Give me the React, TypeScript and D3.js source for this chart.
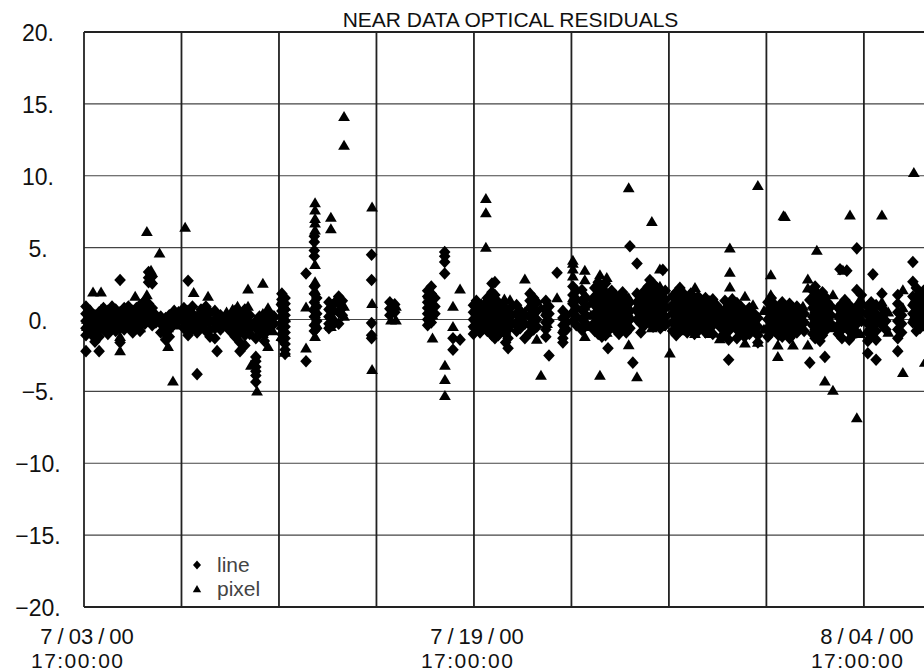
import React from 'react';
import * as d3 from 'd3';

const chartTitle = 'NEAR DATA OPTICAL RESIDUALS';
const yTicks = [20, 15, 10, 5, 0, -5, -10, -15, -20];
const xGridDays = [0, 4, 8, 12, 16, 20, 24, 28, 32];
const xLabelDays = [0, 16, 32];
const xLabelDates = ['7/03/00', '7/19/00', '8/04/00'];
const xLabelTimes = ['17:00:00', '17:00:00', '17:00:00'];
const legendNames = ['line', 'pixel'];

// [day since 7/03/00 17:00, residual values...]
const lineEarly: number[][] = [
  [0.08, 0.9, 0.4, -0.1, -0.6, -1.1, -2.2],
  [0.25, 0.6, 0.1, -0.4, -0.9],
  [0.45, 0.3, -0.3, -0.8, -1.3, -1.55],
  [0.62, 0.5, -0.1, -0.6, -1.2, -2.2],
  [0.8, 0.8, 0.3, -0.2, -0.7],
  [0.98, 0.6, 0.1, -0.4, -1.0],
  [1.15, 0.9, 0.4, -0.1, -0.5],
  [1.3, 0.7, 0.2, -0.3, -0.8],
  [1.48, 2.75, 0.5, 0.0, -0.6, -1.6],
  [1.65, 0.8, 0.3, -0.2, -0.7],
  [1.82, 0.9, 0.4, -0.1, -0.5],
  [2.0, 0.6, 0.1, -0.4, -0.9],
  [2.15, 0.8, 0.3, -0.2, -0.6],
  [2.3, 1.0, 0.5, 0.0, -0.4, -0.8],
  [2.5, 1.3, 0.7, 0.2, -0.3],
  [2.65, 3.3, 2.9, 2.6, 1.1, 0.5, -0.1],
  [2.8, 3.0, 2.5, 0.8, 0.2, -0.4],
  [2.95, 0.3, -0.2],
  [3.15, 0.2, -0.3, -0.9],
  [3.35, 0.1, -0.5, -1.0, -1.4],
  [3.5, 0.3, -0.2, -0.7, -1.2],
  [3.7, 0.6, 0.1, -0.3],
  [3.88, 0.5, 0.0],
  [4.1, 0.8, 0.3, -0.2, -0.6],
  [4.27, 2.7, 0.6, 0.1, -0.4, -1.1],
  [4.45, 0.9, 0.4, -0.1, -0.6],
  [4.64, 0.2, -0.3, -0.9, -3.8],
  [4.8, 0.7, 0.2, -0.4],
  [5.0, 0.9, 0.3, -0.2, -0.8],
  [5.17, 0.5, -0.1, -0.7, -1.2],
  [5.37, 0.6, 0.0, -0.6, -1.3],
  [5.46, -2.2],
  [5.6, 0.3, -0.3, -0.7],
  [5.8, 0.1, -0.4],
  [6.0, 0.2, -0.3, -0.8],
  [6.2, 0.6, 0.0, -0.6, -1.2],
  [6.4, 0.4, -0.2, -0.9, -1.6, -2.2],
  [6.6, 0.7, 0.1, -0.5, -1.1, -1.8],
  [6.8, 0.3, -0.3, -1.0],
  [7.05, -0.1, -0.6, -1.3, -2.6, -2.9, -3.3, -3.6, -3.9, -4.35],
  [7.2, 0.2, -0.4, -0.8],
  [7.4, 0.0, -0.5, -1.0, -1.5],
  [7.6, 0.4, -0.1, -0.6],
  [7.8, 0.2, -0.3],
  [8.12, 1.8, 1.4, 1.0, 0.6, 0.2, -0.2, -0.6, -1.0, -1.4],
  [8.25, 1.5, 1.1, 0.7, 0.3, -0.1, -0.5, -0.9, -1.3, -1.7, -2.1, -2.4],
  [9.11, 3.2, -2.9],
  [9.45, 5.8, 5.4, 4.8, 4.4, 2.3, 1.8, 1.2, 0.6, 0.2, -0.4, -0.8],
  [9.55, 1.5, 0.9, 0.4, -0.1, -0.6],
  [10.05, 1.2, 0.7, 0.2, -0.3, -0.6],
  [10.2, 1.0, 0.5, 0.0, -0.4],
  [10.45, 1.6, 1.1, 0.5, -0.3],
  [10.6, 1.3, 0.8, 0.3],
  [11.8, 4.5, 2.75, -0.25, -1.1, -1.3],
  [12.55, 1.2, 0.75, 0.3],
  [12.75, 1.05, 0.5],
  [14.1, 2.0, 1.6, 1.2, 0.8, 0.4, 0.0, -0.4],
  [14.25, 2.3, 1.8, 1.4, 1.0, 0.6, 0.2, -0.2],
  [14.4, 1.5, 0.9, 0.4],
  [14.8, 4.7, 4.4, 4.0, 3.2],
  [15.14, -1.3, -2.1],
  [15.43, -1.4],
];

const lineLate: number[][] = [
  [15.98, 1.0, 0.5, 0.0, -0.5, -1.0],
  [16.1, 1.3, 0.8, 0.3, -0.2, -0.7],
  [16.25, 0.6, 0.1, -0.4, -0.9],
  [16.4, 1.0, 0.4, -0.1, -0.6],
  [16.55, 1.5, 0.9, 0.4, -0.2, -0.8],
  [16.74, 2.5, 1.9, 1.3, 0.7, 0.1, -0.5, -1.1],
  [16.86, 2.6, 1.7, 1.0, 0.3, -0.3, -0.9, -1.3],
  [17.0, 1.2, 0.5, -0.1, -0.7, -1.1],
  [17.15, 1.0, 0.4, -0.2, -0.8],
  [17.3, 0.8, 0.2, -0.4, -1.0, -1.6],
  [17.4, 0.5, -0.1, -0.7, -1.3, -2.0],
  [17.55, 0.9, 0.3, -0.3],
  [17.75, 1.0, 0.4, -0.2, -0.8],
  [17.9, 0.6, 0.0, -0.6],
  [18.09, 0.3, -0.3, -1.3],
  [18.3, 1.8, 1.3, 0.8, 0.2, -0.4, -0.9],
  [18.45, 1.5, 1.0, 0.5, -0.1, -0.7],
  [18.58, 1.2, 0.6, 0.0, -0.5],
  [18.95, 1.3, 0.8, 0.3, -0.2, -0.7, -1.2],
  [19.08, 0.9, 0.4, -0.1, -2.5],
  [19.41, 3.25],
  [19.65, 0.6, 0.1, -0.4, -0.9, -1.3, -1.6],
  [19.8, 0.3, -0.2, -0.7],
  [20.06, 2.3, 1.7, 1.1, 0.5, -0.1],
  [20.2, 2.0, 1.4, 0.8, 0.2, -0.4],
  [20.43, 2.05, 1.3, 0.66, 0.0, -0.73],
  [20.6, 1.5, 0.9, 0.3, -0.3],
  [20.96, 2.2, 1.6, 1.0, 0.4, -0.2, -0.8],
  [21.1, 2.6, 2.0, 1.4, 0.8, 0.2, -0.4, -1.0],
  [21.25, 2.3, 1.7, 1.1, 0.5, -0.1, -0.7, -1.2],
  [21.4, 2.5, 1.9, 1.3, 0.7, 0.1, -0.5, -1.1],
  [21.5, 1.6, 1.0, 0.4, -0.2, -0.8, -2.0],
  [21.65, 2.0, 1.4, 0.8, 0.2, -0.4],
  [21.8, 1.7, 1.1, 0.5, -0.1, -0.7],
  [21.95, 1.4, 0.8, 0.2, -0.4, -1.0],
  [22.1, 1.9, 1.3, 0.7, 0.1, -0.5],
  [22.25, 1.5, 0.9, 0.3, -0.3, -0.9],
  [22.4, 5.1, 1.2, 0.6, 0.0, -0.6],
  [22.52, -3.0],
  [22.69, 3.9, 1.8, 1.2, 0.6, 0.0],
  [22.85, 1.5, 0.9, 0.3, -0.3, -0.9],
  [23.0, 2.0, 1.4, 0.8, 0.2, -0.4],
  [23.15, 2.3, 1.7, 1.1, 0.5, -0.1],
  [23.22, 2.75],
  [23.35, 2.5, 1.9, 1.3, 0.7, 0.1, -0.5],
  [23.5, 2.2, 1.6, 1.0, 0.4, -0.2],
  [23.65, 1.8, 1.2, 0.6, 0.0, -0.6],
  [23.75, 3.45],
  [23.85, 2.0, 1.4, 0.8, 0.2, -0.4],
  [24.15, 1.6, 1.0, 0.4, -0.2, -0.8],
  [24.3, 1.9, 1.3, 0.7, 0.1, -0.5, -1.1],
  [24.45, 2.2, 1.6, 1.0, 0.4, -0.2, -0.8],
  [24.6, 1.8, 1.2, 0.6, 0.0, -0.6],
  [24.75, 1.5, 0.9, 0.3, -0.3, -0.9],
  [24.9, 1.8, 1.2, 0.6, 0.0, -0.6],
  [25.05, 1.4, 0.8, 0.2, -0.4, -1.0],
  [25.2, 1.6, 1.0, 0.4, -0.2, -0.8],
  [25.35, 1.3, 0.7, 0.1, -0.5],
  [25.5, 1.5, 0.9, 0.3, -0.3, -0.9],
  [25.65, 1.2, 0.6, 0.0, -0.6],
  [25.8, 1.4, 0.8, 0.2, -0.4, -1.0],
  [25.95, 1.0, 0.4, -0.2],
  [26.15, 0.6, 0.0, -0.6, -1.2],
  [26.3, 1.3, 0.7, 0.1, -0.5, -1.1],
  [26.45, 1.0, 0.4, -0.2, -0.8, -1.4, -2.8],
  [26.6, 1.4, 0.8, 0.2, -0.4],
  [26.79, 1.15, 0.5, -0.1, -0.7, -1.3],
  [26.95, 0.9, 0.3, -0.3, -0.9],
  [27.1, 0.6, 0.0, -0.6, -1.2],
  [27.3, 0.8, 0.2, -0.4, -1.0],
  [27.5, 0.4, -0.2, -0.8],
  [27.65, 0.1, -0.5, -1.1, -1.6],
  [28.06, 1.2, 0.6, 0.0, -0.6, -1.2],
  [28.2, 1.5, 0.9, 0.3, -0.3, -0.9],
  [28.35, 1.0, 0.4, -0.2, -0.8],
  [28.5, 0.7, 0.1, -0.5, -1.1],
  [28.65, 1.2, 0.6, 0.0, -0.6, -1.2],
  [28.8, 0.9, 0.3, -0.3, -0.9],
  [28.95, 1.1, 0.5, -0.1, -0.7, -1.3],
  [29.1, 0.8, 0.2, -0.4, -1.0],
  [29.25, 0.9, 0.3, -0.3, -0.9],
  [29.4, 0.6, 0.0, -0.6],
  [29.55, 0.4, -0.2, -0.8],
  [29.78, 1.36, -3.0],
  [29.9, 2.0, 1.4, 0.8, 0.2, -0.4, -1.0],
  [30.0, 2.3, 1.7, 1.1, 0.5, -0.1, -0.7, -1.3],
  [30.1, 1.8, 1.2, 0.6, 0.0, -0.6, -1.2],
  [30.2, 1.5, 0.9, 0.3, -0.3, -0.9, -1.5],
  [30.3, 1.9, 1.3, 0.7, 0.1, -0.5, -1.1],
  [30.4, 1.6, 1.0, 0.4, -0.2, -0.8, -2.6],
  [30.5, 1.2, 0.6, 0.0, -0.6],
  [30.65, 0.9, 0.3, -0.3],
  [30.95, 0.8, 0.2, -0.4, -1.0],
  [31.02, 3.5],
  [31.1, 1.1, 0.5, -0.1, -0.7, -1.3],
  [31.22, 1.36, 0.7, 0.1, -0.5],
  [31.3, 3.4],
  [31.4, 1.0, 0.4, -0.2, -0.8, -1.4],
  [31.55, 0.7, 0.1, -0.5, -1.1],
  [31.71, 4.95, 2.05, 0.9, 0.3, -0.3, -0.9],
  [31.9, 1.7, 1.1, 0.5, -0.1],
  [32.16, 0.9, 0.3, -0.3, -0.9, -1.5, -2.35],
  [32.3, 1.2, 0.6, 0.0, -0.6, -1.2],
  [32.37, 3.14],
  [32.5, 1.0, 0.4, -0.2, -0.8, -1.4, -2.8],
  [32.74, 1.8, 0.8, 0.2, -0.4],
  [32.9, 0.5, -0.1, -0.7],
  [33.39, 1.7, 1.1, 0.5, -0.1, -0.7, -1.3, -2.2],
  [33.55, 0.3, -0.3, -0.9],
  [34.01, 4.0, 2.63, 1.6, 1.0, 0.4, -0.2],
  [34.15, 2.2, 1.5, 0.9, 0.3, -0.3, -0.8],
  [34.3, 1.8, 1.2, 0.6, 0.0, -0.6],
  [34.45, 2.0, 1.4, 0.8, 0.2, -0.4],
  [34.6, 1.5, 0.9, 0.3, -0.3],
];

const pixelEarly: number[][] = [
  [0.12, 0.6, 0.0, -0.5],
  [0.37, 1.9, 0.3, -0.3],
  [0.7, 1.9, 0.7, 0.0, -0.7],
  [1.0, 0.3, -0.3],
  [1.3, 0.5, -0.2],
  [1.48, -2.2, -1.2],
  [1.75, 0.4, -0.5],
  [2.1, 1.6, 0.6, -0.2],
  [2.3, 0.9, 0.2, -0.6],
  [2.58, 6.1, 1.7, 1.2, 0.4],
  [2.75, 3.4, 2.8, 0.6, -0.2],
  [3.1, 4.6, 0.0],
  [3.45, -1.9, -0.6],
  [3.65, -4.3],
  [3.85, 0.3, -0.4],
  [4.15, 6.4, 0.5, -0.3],
  [4.5, 1.85, 0.2, -0.6],
  [4.9, 0.4, -0.5],
  [5.09, 1.6, 0.5, -0.1],
  [5.5, 0.2, -0.6],
  [5.85, 0.5, -0.2],
  [6.1, 0.7, 0.0],
  [6.3, 0.9, 0.1, -0.7],
  [6.73, 2.1, 0.9, -0.5],
  [6.85, -3.2],
  [7.1, -5.0, -0.3],
  [7.34, 2.5, 0.4, -1.0],
  [7.55, 0.8, -0.4, -1.9],
  [7.75, 0.3, -0.8],
  [8.1, 1.3, -0.4, -1.2],
  [8.25, 0.9, 0.1, -2.3],
  [9.11, 0.85, -2.0],
  [9.48, 8.1, 7.6, 7.0, 6.7, 6.2, 3.8, 2.6, 2.0, 1.0, 0.4, -0.2, -1.2],
  [10.13, 7.1, 6.3, 1.0, 0.3, -0.5],
  [10.3, 1.3, 0.6, -0.1],
  [10.67, 14.1, 12.1, 0.9, 0.2],
  [11.82, 7.8, 1.1, -3.5],
  [12.6, 0.5, -0.05],
  [12.8, 0.9, -0.05],
  [14.15, 1.7, 0.6, -0.1],
  [14.3, 1.1, 0.3, -1.3],
  [14.81, -3.2, -4.2, -5.3],
  [15.14, 0.9, -0.5],
  [15.43, 2.1],
];

const pixelLate: number[][] = [
  [16.04, 0.8, 0.2, -0.4],
  [16.3, 1.1, 0.3],
  [16.49, 8.4, 7.4, 5.0, 1.2, 0.5],
  [16.7, 0.7, -0.2],
  [17.0, 0.9, 0.2, -0.5],
  [17.25, 1.4, 0.6],
  [17.48, 1.35, 0.5, -0.2],
  [17.8, 0.6, -0.3],
  [18.09, 2.8, 0.5],
  [18.3, 1.0, 0.4],
  [18.58, -1.4],
  [18.75, -3.9, 0.8],
  [19.0, 0.7, -0.3],
  [19.41, 1.5],
  [19.7, 0.2, -0.5],
  [20.06, 4.1, 3.9, 3.5, 3.0, 1.5, 0.6],
  [20.55, 3.4, 2.75, 1.7, 0.9, -1.2],
  [20.8, 1.2, 0.3, -0.5],
  [21.17, 3.1, 1.9, 0.8, -3.9],
  [21.45, 2.9, 1.5, 0.2, -0.9],
  [21.7, 1.2, 0.5, -0.6],
  [22.0, 0.9, -0.3],
  [22.35, 9.15, 1.5, 0.4, -1.77],
  [22.69, -4.0, 0.9],
  [22.9, 1.6, 0.1],
  [23.3, 6.8, 0.7, -0.6],
  [23.63, 3.5, 2.3, 1.0, -0.5],
  [23.9, 0.9, -0.2],
  [24.04, -2.35],
  [24.3, 0.8, -0.4],
  [24.6, 1.5, 0.6, -0.8],
  [25.07, 2.2, 1.1, -1.0],
  [25.4, 0.5, -0.4],
  [25.68, 1.3, -1.0],
  [26.0, 0.7, -0.2],
  [26.09, -1.36],
  [26.5, 4.95, 3.26, 2.24, 0.6],
  [26.75, 0.9, -0.5],
  [27.12, 1.6, -1.66],
  [27.45, 1.0, 0.1],
  [27.65, 9.3, -1.6],
  [27.9, 0.6, -0.7],
  [28.18, 3.1, 1.7, 0.2],
  [28.47, -1.8, -2.6],
  [28.7, 7.2, -0.85],
  [28.76, 7.15],
  [29.09, -1.8, 0.4],
  [29.5, 0.9, -0.6],
  [29.7, 2.8, 2.17, -1.8],
  [30.07, 4.8, 0.6],
  [30.4, -4.3, 1.1],
  [30.73, 1.7, -4.95, -0.6],
  [31.14, 3.4, 0.7],
  [31.43, 7.25, -0.3],
  [31.71, -6.85],
  [31.85, 1.4, -1.0],
  [32.2, 0.7, -0.6],
  [32.74, 7.25, 1.2, 0.1],
  [33.0, 0.5, -0.9],
  [33.6, 2.05, 0.8, -3.7],
  [34.05, 10.2, 1.3, 0.2],
  [34.4, 1.0, -0.4],
  [34.5, -3.0],
];

const W = 924;
const H = 671;
const left = 84;
const right = 937;
const top = 32;
const bottom = 607;
const FONT = "'Liberation Sans', Arial, Helvetica, sans-serif";

const x = d3.scaleLinear().domain([0, 35]).range([left, right]);
const y = d3.scaleLinear().domain([-20, 20]).range([bottom, top]);

const flatten = (cols: number[][]) =>
  cols.flatMap(([t, ...vs]) => vs.map((v) => ({ t, v })));

const linePts = flatten([...lineEarly, ...lineLate]);
const pixelPts = flatten([...pixelEarly, ...pixelLate]);

const diamond = 'M0,-6.3L5.8,0L0,6.3L-5.8,0Z';
const triangle = 'M0,-5.8L5.9,4.2L-5.9,4.2Z';
const diamondSmall = 'M0,-4.4L4,0L0,4.4L-4,0Z';
const triangleSmall = 'M0,-4L4.2,3.2L-4.2,3.2Z';

const fmtY = (v: number) => (v < 0 ? '\u2212' + Math.abs(v) : String(v)) + '.';

function DateLabel({ cx, cy, text }: { cx: number; cy: number; text: string }) {
  const parts = text.split('/');
  return (
    <text x={cx} y={cy} textAnchor="middle" fontSize={22} fill="#111">
      {parts.map((p, i) => (
        <React.Fragment key={i}>
          {i > 0 && <tspan dx={5}>/</tspan>}
          <tspan dx={i > 0 ? 5 : 0}>{p}</tspan>
        </React.Fragment>
      ))}
    </text>
  );
}

export default function App() {
  return (
    <svg
      width={W}
      height={H}
      style={{ position: 'absolute', left: 0, top: 0, background: '#fff' }}
      fontFamily={FONT}
    >
      <rect x={0} y={0} width={W} height={H} fill="#fff" />
      {yTicks.map((t) => (
        <line key={'h' + t} x1={left} x2={right} y1={y(t)} y2={y(t)} stroke="#444" strokeWidth={1.1} />
      ))}
      {xGridDays.map((d) => (
        <line key={'v' + d} x1={x(d)} x2={x(d)} y1={top} y2={bottom} stroke="#222" strokeWidth={1.8} />
      ))}
      <line x1={left} x2={right} y1={top} y2={top} stroke="#222" strokeWidth={1.8} />
      <line x1={left} x2={right} y1={bottom} y2={bottom} stroke="#222" strokeWidth={1.8} />
      <line x1={right} x2={right} y1={top} y2={bottom} stroke="#222" strokeWidth={1.8} />

      {linePts.map((p, i) => (
        <path key={'l' + i} d={diamond} transform={`translate(${x(p.t)},${y(p.v)})`} fill="#000" />
      ))}
      {pixelPts.map((p, i) => (
        <path key={'p' + i} d={triangle} transform={`translate(${x(p.t)},${y(p.v)})`} fill="#000" />
      ))}

      <text x={(left + right) / 2} y={26.5} textAnchor="middle" fontSize={21} fill="#111">
        {chartTitle}
      </text>

      {yTicks.map((t) => (
        <text key={'yl' + t} x={38} y={y(t) + 9} textAnchor="middle" fontSize={23} fill="#111">
          {fmtY(t)}
        </text>
      ))}

      {xLabelDays.map((d, i) => (
        <g key={'xl' + d}>
          <DateLabel cx={x(d) + 3} cy={644} text={xLabelDates[i]} />
          <text x={x(d) - 7} y={668} textAnchor="middle" fontSize={21} fill="#111" textLength={92} lengthAdjust="spacing">
            {xLabelTimes[i]}
          </text>
        </g>
      ))}

      <path d={diamondSmall} transform="translate(197,565)" fill="#000" />
      <path d={triangleSmall} transform="translate(197,589)" fill="#000" />
      <text x={217} y={572} fontSize={21} fill="#444">{legendNames[0]}</text>
      <text x={217} y={596} fontSize={21} fill="#444">{legendNames[1]}</text>
    </svg>
  );
}
